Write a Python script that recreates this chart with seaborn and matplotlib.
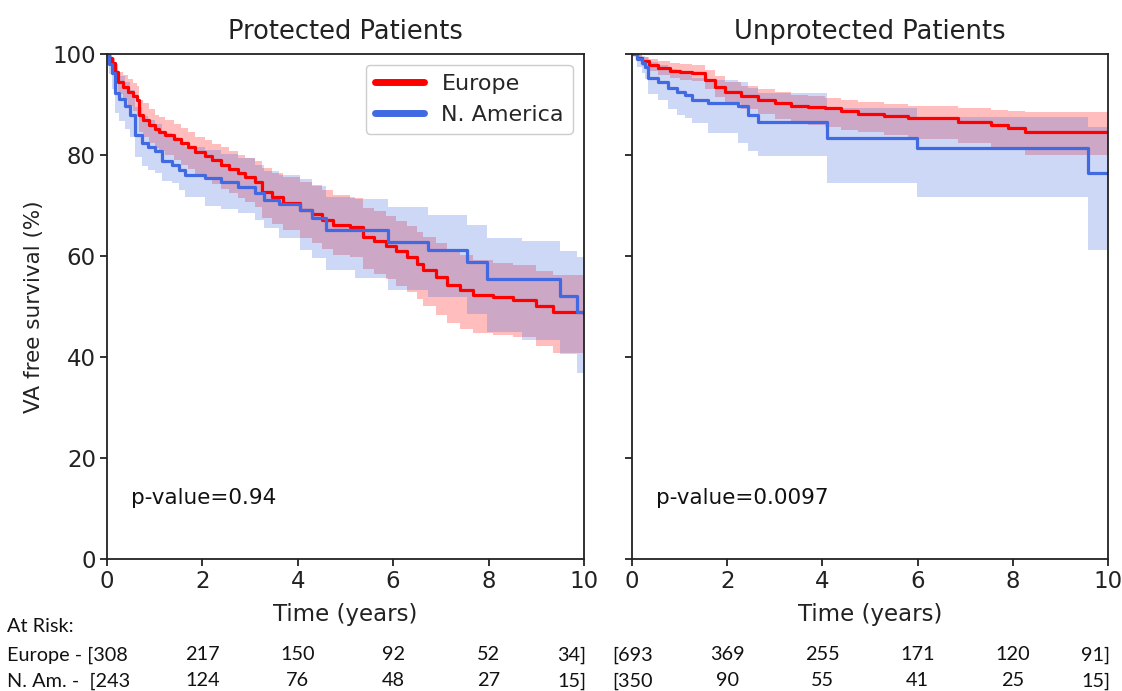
import numpy as np
import pandas as pd
import seaborn as sns
import matplotlib.pyplot as plt
from matplotlib.lines import Line2D
from matplotlib.transforms import blended_transform_factory

# Protected patients - Europe
eu_t = [0, 0.05, 0.1, 0.17, 0.24, 0.33, 0.45, 0.55, 0.62, 0.66, 0.75, 0.87, 1.0, 1.1, 1.22, 1.4, 1.55, 1.7, 1.85, 2.05,
        2.2, 2.4, 2.55, 2.75, 2.9, 3.1, 3.24, 3.45, 3.7, 4.05, 4.3, 4.5, 4.74, 5.1, 5.37, 5.6, 5.85, 6.07, 6.3, 6.5,
        6.63, 6.9, 7.12, 7.4, 7.68, 8.1, 8.51, 9.0, 9.35, 10]
eu_s = [100, 99.2, 98.2, 96.5, 94.5, 93.5, 92.5, 91.7, 90.9, 87.9, 87, 85.9, 85.2, 84.6, 84, 83.2, 82.4, 81.6, 80.6, 79.7,
        78.9, 78, 77.2, 76.4, 75.6, 74.7, 72.7, 71.6, 70.5, 69.1, 68.3, 67.2, 66.1, 65.8, 63.8, 63, 62, 60.9, 59.8, 58.5,
        57.2, 55.8, 54.3, 53.3, 52.3, 51.8, 51.3, 50, 49, 48.5]
eu_up = [100, 99.8, 99.2, 98, 96.5, 95.8, 95, 94.3, 93.6, 90.9, 90.2, 89, 87.9, 87.5, 86.9, 86.1, 85.3, 84.6, 83.6, 82.9,
         82.1, 81.6, 80.8, 80, 79.4, 78.7, 77.4, 76.5, 75.6, 74.6, 74, 73, 72, 71.5, 69.5, 68.8, 68, 67, 66, 64.8,
         63.8, 62.5, 61.2, 60.2, 59.2, 58.7, 58.2, 57, 56.2, 56]
eu_lo = [100, 98.3, 96.8, 94.5, 92, 90.8, 89.6, 88.6, 87.7, 84.5, 83.5, 82.3, 81.4, 80.7, 79.9, 79, 78.1, 77.2, 76.1, 75.1,
         74.2, 73.3, 72.4, 71.5, 70.6, 69.6, 67.5, 66.3, 65.1, 63.6, 62.6, 61.4, 60.1, 59.7, 57.5, 56.5, 55.4, 54.1, 52.8, 51.4,
         50, 48.4, 46.8, 45.6, 44.8, 44.4, 44, 42.2, 40.8, 40.5]

# Protected patients - N. America
na_t = [0, 0.05, 0.1, 0.17, 0.25, 0.38, 0.48, 0.59, 0.73, 0.85, 1.0, 1.15, 1.36, 1.5, 1.64, 2.05, 2.4, 2.75, 3.1, 3.3,
        3.6, 4.05, 4.3, 4.6, 5.2, 5.9, 6.74, 7.54, 7.96, 8.7, 9.5, 9.85, 10]
na_s = [100, 98, 96.2, 92.2, 91, 89.6, 87.9, 84, 82.3, 81.5, 80.7, 78.7, 78, 77, 76, 75.4, 74.7, 73.7, 72.4, 71.1,
        70.2, 69.1, 67.5, 65.1, 65.1, 62.8, 61.2, 58.9, 55.4, 55.4, 52, 49, 48.5]
na_up = [100, 99.5, 99, 96.8, 95.7, 94.5, 92.9, 89.4, 87.8, 87, 86.2, 84.3, 83.6, 82.6, 81.6, 80.9, 80.2, 79.3, 78.1, 76.9,
         76.1, 75.2, 73.8, 71.7, 71.2, 69.6, 68.1, 66.2, 63.6, 63, 61, 59.8, 59.5]
na_lo = [100, 96, 93, 88.3, 86.8, 85.2, 83.6, 79.5, 77.8, 77, 76.4, 74.8, 74.4, 73, 71.7, 69.8, 69.2, 68.5, 67.1, 65.6,
         63.6, 61.2, 59.6, 57.2, 55.6, 53.3, 51.8, 48.5, 45, 43.3, 40.5, 36.8, 36.5]

# Unprotected patients - Europe
eur_t = [0, 0.1, 0.2, 0.35, 0.55, 0.8, 1.0, 1.25, 1.53, 1.75, 1.95, 2.3, 2.65, 3.0, 3.35, 3.7, 4.05, 4.4, 4.75, 5.3,
         5.8, 6.85, 7.55, 7.9, 8.26, 10]
eur_s = [100, 99.2, 98.5, 97.8, 97.2, 96.7, 96.4, 96.2, 94.9, 93.5, 92.5, 91.6, 90.9, 90.2, 89.6, 89.4, 89.2, 88.7, 88.2, 87.7,
         87.3, 86.6, 85.9, 85.3, 84.6, 84.6]
eur_up = [100, 99.8, 99.4, 99, 98.5, 98.2, 98, 97.8, 96.8, 95.6, 94.4, 93.6, 93, 92.4, 91.9, 91.6, 91.3, 90.8, 90.4, 90,
          89.7, 89.3, 88.9, 88.7, 88.4, 88.4]
eur_lo = [100, 98.6, 97.6, 96.6, 95.9, 95.2, 94.8, 94.6, 93, 91.4, 90.2, 89.1, 88.2, 87.2, 86.3, 85.9, 85.6, 85, 84.6, 84,
          83.2, 82.3, 81.6, 80.9, 80, 80]

# Unprotected patients - N. America
nar_t = [0, 0.1, 0.2, 0.27, 0.34, 0.55, 0.76, 0.95, 1.11, 1.25, 1.6, 2.23, 2.44, 2.65, 4.1, 5.98, 9.58, 10]
nar_s = [100, 99, 98.2, 97.5, 95.2, 94.5, 93.2, 92.5, 91.9, 90.9, 90.2, 89.6, 87.9, 86.6, 83.3, 81.3, 76.4, 76.4]
nar_up = [100, 100, 99.6, 99.3, 98.3, 97.8, 97, 96.5, 96, 95.3, 94.9, 94.5, 93.3, 92.3, 89.2, 87.6, 85.5, 85.5]
nar_lo = [100, 97.5, 96.2, 95, 92, 90.8, 89, 88, 87.3, 86.3, 84.3, 82.3, 80.8, 79.7, 74.4, 71.7, 61.2, 61.2]

risk_times = [0, 2, 4, 6, 8, 10]
risk_eu_prot = [308, 217, 150, 92, 52, 34]
risk_na_prot = [243, 124, 76, 48, 27, 15]
risk_eu_unprot = [693, 369, 255, 171, 120, 91]
risk_na_unprot = [350, 90, 55, 41, 25, 15]

titles = ['Protected Patients', 'Unprotected Patients']
pvalues = ['p-value=0.94', 'p-value=0.0097']

red = '#ff0000'
blue = '#4169e1'

sns.set_style('ticks')
plt.rcParams['font.family'] = ['DejaVu Sans']

fig = plt.figure(figsize=(11.22, 6.91), dpi=100)
ax1 = fig.add_axes([0.0954, 0.191, 0.425, 0.731])
ax2 = fig.add_axes([0.5633, 0.191, 0.4242, 0.731], sharey=ax1)

panels = [
    (ax1, (eu_t, eu_s, eu_lo, eu_up), (na_t, na_s, na_lo, na_up)),
    (ax2, (eur_t, eur_s, eur_lo, eur_up), (nar_t, nar_s, nar_lo, nar_up)),
]

for i, (ax, eu, na) in enumerate(panels):
    for (t, s, lo, up), col in [(eu, red), (na, blue)]:
        ax.fill_between(t, lo, up, step='post', color=col, alpha=0.26, linewidth=0)
    for (t, s, lo, up), col in [(eu, red), (na, blue)]:
        df = pd.DataFrame({'t': t, 's': s})
        sns.lineplot(data=df, x='t', y='s', ax=ax, color=col, lw=2.3,
                     drawstyle='steps-post', estimator=None, sort=False)
    ax.set_xlim(0, 10)
    ax.set_ylim(0, 100)
    ax.set_xticks([0, 2, 4, 6, 8, 10])
    ax.set_yticks([0, 20, 40, 60, 80, 100])
    ax.tick_params(labelsize=16.5, length=5, width=1.3, pad=3, colors='#222222')
    ax.set_xlabel('Time (years)', fontsize=16.5, labelpad=7, color='#222222')
    ax.set_title(titles[i], fontsize=18.5, pad=11, color='#222222')
    ax.text(0.05, 0.12, pvalues[i], transform=ax.transAxes, fontsize=15.5, va='center', color='#111111')
    for sp in ax.spines.values():
        sp.set_linewidth(1.3)
        sp.set_color('#222222')

ax1.set_ylabel('VA free survival (%)', fontsize=15.5, labelpad=6, color='#222222')
ax2.set_ylabel('')
plt.setp(ax2.get_yticklabels(), visible=False)

handles = [Line2D([0], [0], color=red, lw=5), Line2D([0], [0], color=blue, lw=5)]
ax1.legend(handles, ['Europe', 'N. America'], loc='upper right', fontsize=16,
           handlelength=2.2, borderaxespad=0.5, framealpha=1)

# at risk table
rfont = dict(fontsize=14.3, family=['Lato', 'DejaVu Sans'], color='#111111')
fig.text(7 / 1122, 1 - 627 / 691, 'At Risk:', va='center', **rfont)
rows = [(1 - 655 / 691, risk_eu_prot, risk_eu_unprot, 'Europe - '),
        (1 - 681 / 691, risk_na_prot, risk_na_unprot, 'N. Am. -  ')]
for y, prot, unprot, lab in rows:
    fig.text(7 / 1122, y, lab + '[' + str(prot[0]), va='center', **rfont)
    for ax, vals, first in [(ax1, prot, False), (ax2, unprot, True)]:
        tr = blended_transform_factory(ax.transData, fig.transFigure)
        for k, (t, v) in enumerate(zip(risk_times, vals)):
            if k == 0:
                if first:
                    ax.text(-0.42, y, '[' + str(v), transform=tr, va='center', ha='left', **rfont)
                continue
            if k == len(vals) - 1:
                ax.text(10.05, y, str(v) + ']', transform=tr, va='center', ha='right', **rfont)
            else:
                ax.text(t, y, str(v), transform=tr, va='center', ha='center', **rfont)

fig.savefig('out.png', dpi=100)
